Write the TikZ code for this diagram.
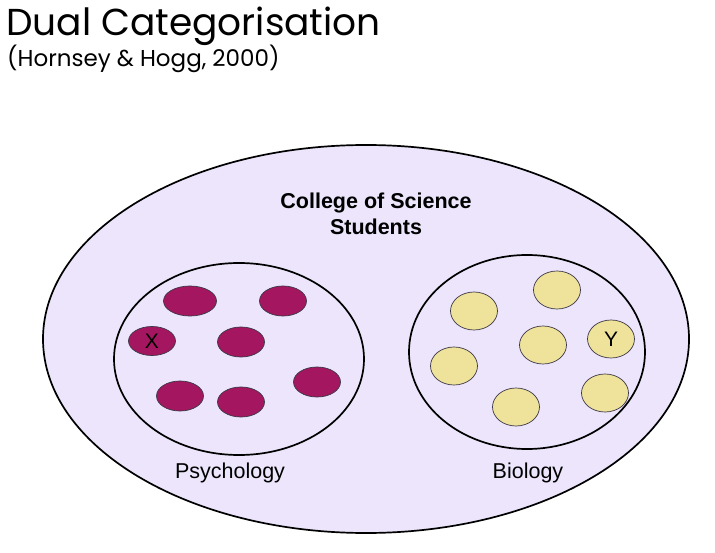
\documentclass[tikz,border=0pt]{standalone}
\usepackage{fontspec}
\setmainfont{Liberation Sans}
\newfontfamily\titlefont{Poppins}
\definecolor{lav}{RGB}{236,229,251}
\definecolor{mag}{RGB}{165,22,96}
\definecolor{yel}{RGB}{239,227,155}
\definecolor{edgegray}{RGB}{60,55,70}
\tikzset{
  big/.style={draw=black, line width=1.7pt, fill=lav},
  group/.style={draw=black, line width=1.7pt},
  memm/.style={ellipse, draw=edgegray, line width=0.7pt, fill=mag, minimum width=47pt, minimum height=30pt, inner sep=0pt, font=\fontsize{21}{21}\selectfont},
  memy/.style={ellipse, draw=edgegray, line width=0.7pt, fill=yel, minimum width=47pt, minimum height=38pt, inner sep=0pt, font=\fontsize{21}{21}\selectfont},
  lbl/.style={font=\fontsize{21.5}{24}\selectfont, inner sep=0pt}
}
\usetikzlibrary{shapes.geometric}
\begin{document}
\begin{tikzpicture}[x=1pt,y=-1pt]
\useasboundingbox (0,0) rectangle (715,553);
\node[anchor=base west, inner sep=0pt, font=\titlefont\fontsize{37.5}{37.5}\selectfont] (title) at (6,36) {Dual Categorisation};
\node[anchor=base west, inner sep=0pt, font=\titlefont\fontsize{23}{23}\selectfont] (sub) at (7,67) {(Hornsey \& Hogg, 2000)};
\draw[big] (366,339) ellipse [x radius=323, y radius=194];
\node[lbl, font=\bfseries\fontsize{21.5}{26}\selectfont, align=center] (college) at (376,214) {College of Science\\Students};
\draw[group] (239,359) ellipse [x radius=125, y radius=96];
\draw[group] (527,352) ellipse [x radius=118, y radius=97];
\node[lbl, anchor=base] (psy) at (230,478) {Psychology};
\node[lbl, anchor=base] (bio) at (528,478) {Biology};
% psychology members
\node[memm, minimum width=53pt] (p1) at (190,301) {};
\node[memm] (p2) at (283,301) {};
\node[memm, minimum height=29pt] (px) at (152,341) {X};
\node[memm] (p4) at (241,342) {};
\node[memm] (p5) at (180,396) {};
\node[memm] (p6) at (241,402) {};
\node[memm] (p7) at (317,382) {};
% biology members
\node[memy] (b1) at (474,311) {};
\node[memy] (b2) at (557,290) {};
\node[memy] (b3) at (543,345) {};
\node[memy] (by) at (611,339) {Y};
\node[memy] (b5) at (454,366) {};
\node[memy] (b6) at (516,407) {};
\node[memy] (b7) at (605,393) {};
\end{tikzpicture}
\end{document}
